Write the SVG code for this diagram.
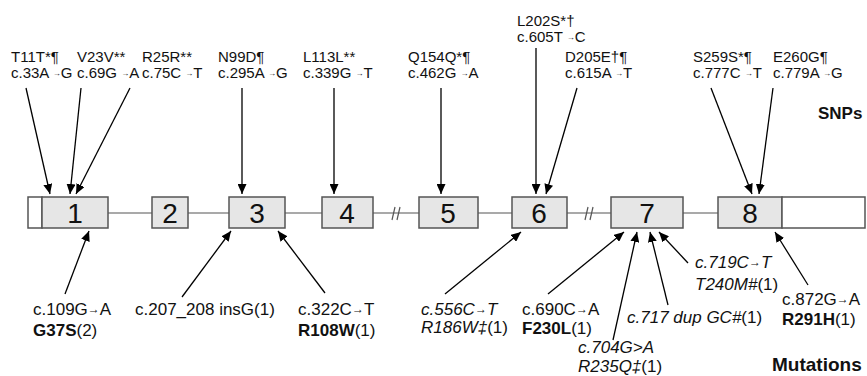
<svg xmlns="http://www.w3.org/2000/svg" width="867" height="376" viewBox="0 0 867 376">
<defs>
<marker id="ah" markerUnits="userSpaceOnUse" markerWidth="10" markerHeight="9" refX="10" refY="4.5" orient="auto">
<path d="M0,0 L10,4.5 L0,9 Z" fill="#000"/>
</marker>
<style>
.ex{fill:#e6e6e6;stroke:#555;stroke-width:1.5}
.wt{fill:#fff;stroke:#555;stroke-width:1.5}
.num{font-family:"Liberation Sans",Arial,sans-serif;font-size:28px;text-anchor:middle;fill:#111}
.snp{font-family:"Liberation Sans",Arial,sans-serif;font-size:15px;fill:#111}
.mut{font-family:"Liberation Sans",Arial,sans-serif;font-size:17px;fill:#111}
.sa{font-size:8px}
.ma{font-size:12px}
.it{font-style:italic}
.b{font-weight:bold}
.ttl{font-family:"Liberation Sans",Arial,sans-serif;font-weight:bold;fill:#111}
.ar{stroke:#000;stroke-width:1.3;fill:none;marker-end:url(#ah)}
.ln{stroke:#555;stroke-width:1.2;fill:none}
</style>
</defs>
<rect width="867" height="376" fill="#fff"/>
<g id="backbone">
<line class="ln" x1="108" y1="213" x2="152" y2="213"/>
<line class="ln" x1="188" y1="213" x2="229" y2="213"/>
<line class="ln" x1="285" y1="213" x2="322" y2="213"/>
<line class="ln" x1="373" y1="213" x2="419" y2="213"/>
<line class="ln" x1="478" y1="213" x2="512" y2="213"/>
<line class="ln" x1="567" y1="213" x2="611" y2="213"/>
<line class="ln" x1="683" y1="213" x2="718" y2="213"/>
<line class="ln" x1="392" y1="220" x2="395" y2="207"/>
<line class="ln" x1="397" y1="220" x2="400" y2="207"/>
<line class="ln" x1="585" y1="220" x2="588" y2="207"/>
<line class="ln" x1="590" y1="220" x2="593" y2="207"/>
</g>
<g id="exon1"><rect class="wt" x="28" y="197" width="14" height="31"/><rect class="ex" x="42" y="197" width="66" height="31"/><text class="num" x="75" y="223">1</text></g>
<g id="exon2"><rect class="ex" x="152" y="197" width="36" height="31"/><text class="num" x="170" y="223">2</text></g>
<g id="exon3"><rect class="ex" x="229" y="197" width="56" height="31"/><text class="num" x="257" y="223">3</text></g>
<g id="exon4"><rect class="ex" x="322" y="197" width="51" height="31"/><text class="num" x="347" y="223">4</text></g>
<g id="exon5"><rect class="ex" x="419" y="197" width="59" height="31"/><text class="num" x="448" y="223">5</text></g>
<g id="exon6"><rect class="ex" x="512" y="197" width="55" height="31"/><text class="num" x="539" y="223">6</text></g>
<g id="exon7"><rect class="ex" x="611" y="197" width="72" height="31"/><text class="num" x="647" y="223">7</text></g>
<g id="exon8"><rect class="ex" x="718" y="197" width="64" height="31"/><rect class="wt" x="782" y="197" width="83" height="31"/><text class="num" x="750" y="223">8</text></g>
<g id="connectors">
<line class="ar" x1="26" y1="88" x2="50" y2="194"/>
<line class="ar" x1="81" y1="88" x2="70" y2="194"/>
<line class="ar" x1="130" y1="88" x2="76" y2="194"/>
<line class="ar" x1="242" y1="88" x2="242" y2="194"/>
<line class="ar" x1="334" y1="88" x2="334" y2="194"/>
<line class="ar" x1="441" y1="88" x2="441" y2="194"/>
<line class="ar" x1="536" y1="48" x2="536" y2="194"/>
<line class="ar" x1="577" y1="88" x2="546" y2="194"/>
<line class="ar" x1="711" y1="88" x2="752" y2="194"/>
<line class="ar" x1="773" y1="88" x2="759" y2="194"/>
<line class="ar" x1="65" y1="294" x2="89" y2="231"/>
<line class="ar" x1="182" y1="297" x2="231" y2="231"/>
<line class="ar" x1="325" y1="293" x2="278" y2="231"/>
<line class="ar" x1="445" y1="294" x2="521" y2="232"/>
<line class="ar" x1="548" y1="294" x2="624" y2="232"/>
<line class="ar" x1="613" y1="340" x2="637" y2="232"/>
<line class="ar" x1="668" y1="305" x2="650" y2="232"/>
<line class="ar" x1="688" y1="263" x2="659" y2="232"/>
<line class="ar" x1="808" y1="285" x2="775" y2="232"/>
</g>
<g id="snp-labels">
<text class="snp" x="11" y="62">T11T*¶</text><text class="snp" x="11" y="78">c.33A <tspan class="sa" dy="-2">→</tspan><tspan dy="2">G</tspan></text>
<text class="snp" x="77" y="62">V23V**</text><text class="snp" x="77" y="78">c.69G <tspan class="sa" dy="-2">→</tspan><tspan dy="2">A</tspan></text>
<text class="snp" x="142" y="62">R25R**</text><text class="snp" x="142" y="78">c.75C <tspan class="sa" dy="-2">→</tspan><tspan dy="2">T</tspan></text>
<text class="snp" x="218" y="62">N99D¶</text><text class="snp" x="218" y="78">c.295A <tspan class="sa" dy="-2">→</tspan><tspan dy="2">G</tspan></text>
<text class="snp" x="303" y="62">L113L**</text><text class="snp" x="303" y="78">c.339G <tspan class="sa" dy="-2">→</tspan><tspan dy="2">T</tspan></text>
<text class="snp" x="408" y="62">Q154Q*¶</text><text class="snp" x="408" y="78">c.462G <tspan class="sa" dy="-2">→</tspan><tspan dy="2">A</tspan></text>
<text class="snp" x="517" y="26">L202S*†</text><text class="snp" x="517" y="42">c.605T <tspan class="sa" dy="-2">→</tspan><tspan dy="2">C</tspan></text>
<text class="snp" x="565" y="62">D205E†¶</text><text class="snp" x="565" y="78">c.615A <tspan class="sa" dy="-2">→</tspan><tspan dy="2">T</tspan></text>
<text class="snp" x="693" y="62">S259S*¶</text><text class="snp" x="693" y="78">c.777C <tspan class="sa" dy="-2">→</tspan><tspan dy="2">T</tspan></text>
<text class="snp" x="773" y="62">E260G¶</text><text class="snp" x="773" y="78">c.779A <tspan class="sa" dy="-2">→</tspan><tspan dy="2">G</tspan></text>
<text class="ttl" x="818" y="119" font-size="17">SNPs</text>
</g>
<g id="mutation-labels">
<text class="mut" x="33" y="315">c.109G<tspan class="ma" dy="-2">→</tspan><tspan dy="2">A</tspan></text><text class="mut" x="33" y="336"><tspan class="b">G37S</tspan>(2)</text>
<text class="mut" x="135" y="315">c.207_208 insG(1)</text>
<text class="mut" x="298" y="315">c.322C<tspan class="ma" dy="-2">→</tspan><tspan dy="2">T</tspan></text><text class="mut" x="298" y="336"><tspan class="b">R108W</tspan>(1)</text>
<text class="mut it" x="421" y="315">c.556C<tspan class="ma" dy="-2">→</tspan><tspan dy="2">T</tspan></text><text class="mut" x="421" y="333"><tspan class="it">R186W‡</tspan>(1)</text>
<text class="mut" x="522" y="315">c.690C<tspan class="ma" dy="-2">→</tspan><tspan dy="2">A</tspan></text><text class="mut" x="522" y="334"><tspan class="b">F230L</tspan>(1)</text>
<text class="mut it" x="578" y="353">c.704G&gt;A</text><text class="mut" x="578" y="372"><tspan class="it">R235Q‡</tspan>(1)</text>
<text class="mut" x="627" y="323"><tspan class="it">c.717 dup GC#</tspan>(1)</text>
<text class="mut it" x="695" y="268">c.719C<tspan class="ma" dy="-2">→</tspan><tspan dy="2">T</tspan></text><text class="mut" x="695" y="290"><tspan class="it">T240M#</tspan>(1)</text>
<text class="mut" x="782" y="305">c.872G<tspan class="ma" dy="-2">→</tspan><tspan dy="2">A</tspan></text><text class="mut" x="782" y="325"><tspan class="b">R291H</tspan>(1)</text>
<text class="ttl" x="772" y="371" font-size="19">Mutations</text>
</g>
</svg>
